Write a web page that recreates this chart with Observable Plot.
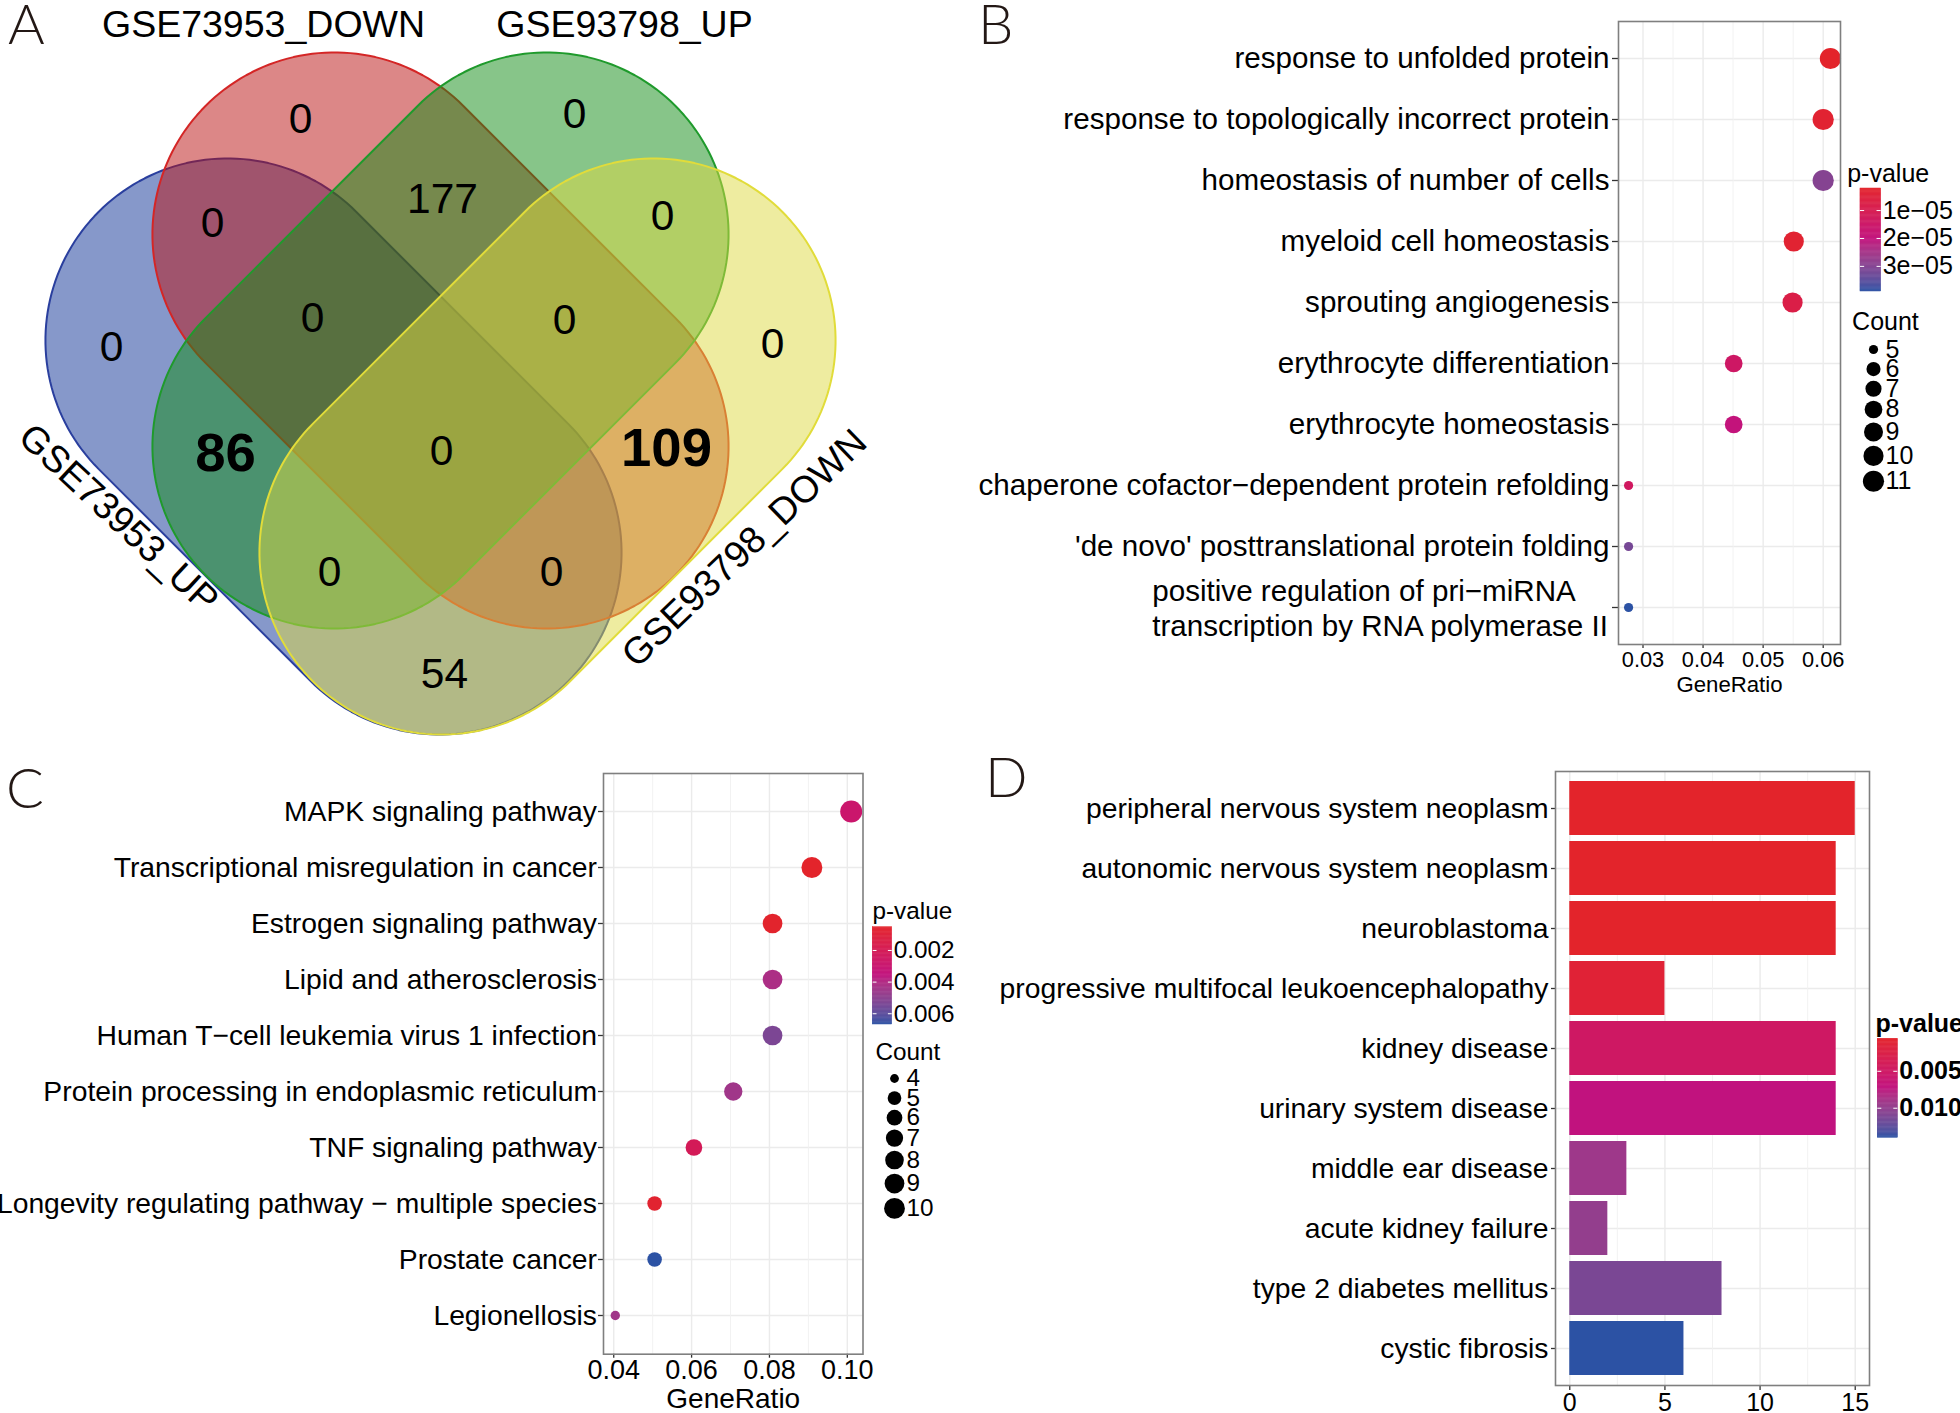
<!DOCTYPE html>
<html><head><meta charset="utf-8">
<script src="https://cdn.jsdelivr.net/npm/d3@7"></script>
<script src="https://cdn.jsdelivr.net/npm/@observablehq/plot@0.6"></script>
<style>
html,body{margin:0;padding:0;background:#fff;}
#fig{position:relative;width:1960px;height:1413px;overflow:hidden;background:#fff;font-family:"Liberation Sans",Arial,sans-serif;}
.letter{position:absolute;font-size:56px;line-height:1;color:#231815;font-family:Lato,"Liberation Sans",Arial,sans-serif;font-weight:300;}
svg{display:block;}
</style></head><body><div id="fig"></div>
<script>
// ---------------- DATA ----------------
// Panel A: Venn diagram (4 sets), each set drawn as a capsule shape
const vennSets = ["GSE73953_UP", "GSE73953_DOWN", "GSE93798_UP", "GSE93798_DOWN"];
const vennFill = ["#0D3195", "#B90F0F", "#0F8C14", "#DDD941"];
const vennStroke = ["#2A3F9E", "#D42626", "#1F9A2C", "#E1DC3A"];
const shapeCx = [-1.07, 0, 0, 1.07];
const shapeCy = [-0.26, 0.80, 0.80, -0.26];
const shapeHalfLen = [1.50, 1.50, 1.50, 1.50];
const shapeRadius = [1.82, 1.82, 1.82, 1.82];
const shapeAngle = [135, 135, 45, 45];
const setLabelX = [-3.22, -1.77, 1.84, 3.04];
const setLabelY = [-0.98, 3.96, 3.96, -1.28];
const setLabelRotate = [43, 0, 0, -44];
const regionCounts = ["0", "0", "0", "177", "0", "0", "0", "0", "0", "86", "0", "109", "0", "0", "54"];
const regionBold = [0, 0, 0, 0, 0, 0, 0, 0, 0, 1, 0, 1, 0, 0, 0];
const regionX = [-1.40, 1.34, -2.28, 0.02, 2.22, -3.29, -1.28, 1.24, 3.32, -2.15, 0.01, 2.26, -1.11, 1.11, 0.04];
const regionY = [3.01, 3.06, 1.97, 2.21, 2.04, 0.73, 1.02, 1.00, 0.76, -0.33, -0.31, -0.28, -1.52, -1.52, -2.54];

// Panel B: GO dot plot
const bTerms = ["response to unfolded protein", "response to topologically incorrect protein", "homeostasis of number of cells", "myeloid cell homeostasis", "sprouting angiogenesis", "erythrocyte differentiation", "erythrocyte homeostasis", "chaperone cofactor\u2212dependent protein refolding", "'de novo' posttranslational protein folding", "positive regulation of pri\u2212miRNA\ntranscription by RNA polymerase II"];
const bRatio = [0.0612, 0.0600, 0.0600, 0.0551, 0.0549, 0.0451, 0.0451, 0.0276, 0.0276, 0.0276];
const bCount = [11, 11, 11, 10, 10, 8, 8, 5, 5, 5];
const bPvalue = [2.1e-6, 3.4e-6, 3.0e-5, 3.5e-6, 7.9e-6, 1.46e-5, 1.98e-5, 1.35e-5, 3.2e-5, 3.9e-5];
const bXTicks = [0.03, 0.04, 0.05, 0.06];
const bXMinor = [0.035, 0.045, 0.055];
const bColorTicks = [1e-5, 2e-5, 3e-5];
const bCountLegend = [5, 6, 7, 8, 9, 10, 11];

// Panel C: KEGG dot plot
const cTerms = ["MAPK signaling pathway", "Transcriptional misregulation in cancer", "Estrogen signaling pathway", "Lipid and atherosclerosis", "Human T\u2212cell leukemia virus 1 infection", "Protein processing in endoplasmic reticulum", "TNF signaling pathway", "Longevity regulating pathway \u2212 multiple species", "Prostate cancer", "Legionellosis"];
const cRatio = [0.1010, 0.0909, 0.0808, 0.0808, 0.0808, 0.0707, 0.0606, 0.0505, 0.0505, 0.0404];
const cCount = [10, 9, 8, 8, 8, 7, 6, 5, 5, 4];
const cPvalue = [0.0029, 0.00053, 0.0006, 0.0042, 0.0054, 0.0045, 0.0021, 0.0007, 0.00668, 0.0045];
const cXTicks = [0.04, 0.06, 0.08, 0.10];
const cXMinor = [0.05, 0.07, 0.09];
const cColorTicks = [0.002, 0.004, 0.006];
const cCountLegend = [4, 5, 6, 7, 8, 9, 10];

// Panel D: DO bar plot
const dTerms = ["peripheral nervous system neoplasm", "autonomic nervous system neoplasm", "neuroblastoma", "progressive multifocal leukoencephalopathy", "kidney disease", "urinary system disease", "middle ear disease", "acute kidney failure", "type 2 diabetes mellitus", "cystic fibrosis"];
const dCount = [15, 14, 14, 5, 14, 14, 3, 2, 8, 6];
const dPvalue = [0.0006, 0.00062, 0.00062, 0.0014, 0.0050, 0.0073, 0.0094, 0.0100, 0.0113, 0.0140];
const dXTicks = [0, 5, 10, 15];
const dXMinor = [2.5, 7.5, 12.5];
const dColorTicks = [0.005, 0.010];

// ---------------- HELPERS ----------------
const FONT = "Liberation Sans, Arial, sans-serif";
const RAMP = ["#E3242B", "#C1127E", "#2C52A4"];
const baseStyle = {fontFamily: FONT, color: "black", background: "transparent", overflow: "visible"};
function colorScale(values) {
  const [lo, hi] = d3.extent(values);
  return {type: "linear", domain: [lo, (lo + hi) / 2, hi], range: RAMP, interpolate: "lab"};
}
function textWidth(s, size, weight = "normal") {
  const c = textWidth.c || (textWidth.c = document.createElement("canvas").getContext("2d"));
  c.font = `${weight} ${size}px "Liberation Sans", Arial, sans-serif`;
  return c.measureText(s).width;
}
const fmtExp = d => { const [m, e] = d.toExponential(0).split("e"); return `${m}e${+e < 0 ? "\u2212" : "+"}${String(Math.abs(+e)).padStart(2, "0")}`; };
const fig = document.getElementById("fig");
function place(el, left, top) {
  const w = document.createElement("div");
  w.style.cssText = `position:absolute;left:${left}px;top:${top}px;`;
  w.appendChild(el); fig.appendChild(w);
}
function letter(t, left, top) {
  const d = document.createElement("div"); d.className = "letter"; d.textContent = t;
  d.style.left = left + "px"; d.style.top = top + "px"; fig.appendChild(d);
}

function dotPanel(o) {
  const data = o.terms.map((t, i) => ({term: t, ratio: o.ratio[i], count: o.count[i], p: o.p[i]}));
  const [xlo, xhi] = d3.extent(o.ratio); const pad = (xhi - xlo) * 0.05;
  const [cmin, cmax] = d3.extent(o.legendCounts);
  const marks = [
    Plot.ruleY(o.terms, {stroke: "#EBEBEB", strokeWidth: 1.4}),
    Plot.ruleX(o.minor, {stroke: "#F0F0F0", strokeWidth: 0.9}),
    Plot.ruleX(o.xTicks, {stroke: "#EBEBEB", strokeWidth: 1.4}),
    Plot.dot(data, {x: "ratio", y: "term", r: d => Math.sqrt((d.count - cmin) / (cmax - cmin)), fill: "p"}),
    Plot.axisY({tickSize: o.ySize, tickPadding: o.yPad, fontSize: o.yFont, stroke: "#333", strokeWidth: 1.3, label: null, tickFormat: d => d.includes("\n") ? "" : d}),
    Plot.axisX({ticks: o.xTicks, tickFormat: d3.format(".2f"), tickSize: o.xSize, tickPadding: o.xPad, fontSize: o.xFont, stroke: "#333", strokeWidth: 1.3, label: null}),
    Plot.text(["GeneRatio"], {frameAnchor: "bottom", dy: o.titleDy, lineAnchor: "middle", fontSize: o.titleFont}),
    Plot.frame({stroke: "#7F7F7F", strokeWidth: 1.6})
  ];
  o.terms.filter(t => t.includes("\n")).forEach(t => {
    const w = d3.max(t.split("\n"), s => textWidth(s, o.yFont));
    marks.push(Plot.text([t], {x: xlo - pad, y: d => d, text: d => d, textAnchor: "start", dx: -(o.ySize + o.yPad + w), lineHeight: o.lineHeight, fontSize: o.yFont}));
  });
  return Plot.plot({
    width: o.width, height: o.height,
    marginLeft: o.ml, marginRight: o.mr, marginTop: o.mt, marginBottom: o.mb,
    style: baseStyle,
    x: {domain: [xlo - pad, xhi + pad]},
    y: {type: "point", domain: o.terms, padding: 0.6},
    r: {type: "linear", domain: [0, 1], range: o.rRange},
    color: colorScale(o.p),
    marks
  });
}

function colorbarLegend(o) {
  const [lo, hi] = d3.extent(o.p);
  const n = 120;
  const samples = d3.range(n).map(i => ({p0: lo + (hi - lo) * i / n, p1: lo + (hi - lo) * (i + 1) / n}));
  const fw = o.bold ? "bold" : "normal";
  return Plot.plot({
    width: o.width, height: o.height, margin: 0, style: baseStyle,
    x: {domain: [0, 1], range: o.barX, axis: null},
    y: {domain: [lo, hi], range: o.barY, axis: null},
    color: colorScale(o.p),
    marks: [
      Plot.rect(samples, {x1: 0, x2: 1, y1: "p0", y2: "p1", fill: d => (d.p0 + d.p1) / 2, stroke: d => (d.p0 + d.p1) / 2, strokeWidth: 0.5}),
      Plot.ruleY(o.ticks, {y: d => d, x1: 0, x2: 0.2, stroke: "white", strokeWidth: 1}),
      Plot.ruleY(o.ticks, {y: d => d, x1: 0.8, x2: 1, stroke: "white", strokeWidth: 1}),
      Plot.text(o.ticks, {x: 1, y: d => d, text: o.fmt, textAnchor: "start", dx: 1.5, fontSize: o.fontSize, fontWeight: fw}),
      Plot.text([o.title], {frameAnchor: "top-left", dx: o.titleDx, dy: o.titleDy, textAnchor: "start", lineAnchor: "middle", fontSize: o.fontSize, fontWeight: fw})
    ]
  });
}

function countLegend(o) {
  const [cmin, cmax] = d3.extent(o.counts);
  const s = c => Math.sqrt((c - cmin) / (cmax - cmin));
  const rl = c => o.rRange[0] + (o.rRange[1] - o.rRange[0]) * s(c);
  const h = o.counts.map(c => Math.max(19.6, 2.45 * rl(c)));
  const rows = []; let y = o.firstY;
  o.counts.forEach((c, i) => { if (i > 0) y += (h[i - 1] + h[i]) / 2; rows.push({c, y, x: o.dotX, s: s(c)}); });
  return Plot.plot({
    width: o.width, height: o.height, margin: 0, style: baseStyle,
    x: {domain: [0, o.width], range: [0, o.width], axis: null},
    y: {domain: [0, o.height], range: [0, o.height], axis: null},
    r: {type: "linear", domain: [0, 1], range: o.rRange},
    marks: [
      Plot.dot(rows, {x: "x", y: "y", r: "s", fill: "black"}),
      Plot.text(rows, {x: "x", y: "y", dx: o.labelDx, text: d => String(d.c), textAnchor: "start", fontSize: o.fontSize}),
      Plot.text([o.title], {frameAnchor: "top-left", dx: o.titleDx, dy: o.titleDy, textAnchor: "start", lineAnchor: "middle", fontSize: o.fontSize})
    ]
  });
}

// ---------------- PANEL A ----------------
// capsule outline: two half circles joined by straight sides, then rotated/translated
const shapes = vennSets.map((name, k) => {
  const th = shapeAngle[k] * Math.PI / 180, s = shapeHalfLen[k], R = shapeRadius[k];
  const local = [];
  d3.range(-90, 90.01, 2).forEach(t => { const a = t * Math.PI / 180; local.push([s + R * Math.cos(a), R * Math.sin(a)]); });
  d3.range(90, 270.01, 2).forEach(t => { const a = t * Math.PI / 180; local.push([-s + R * Math.cos(a), R * Math.sin(a)]); });
  return local.map(([u, v]) => ({x: shapeCx[k] + u * Math.cos(th) - v * Math.sin(th), y: shapeCy[k] + u * Math.sin(th) + v * Math.cos(th)}));
});
const regions = regionCounts.map((t, i) => ({t, x: regionX[i], y: regionY[i], bold: regionBold[i]}));
const setLabels = vennSets.map((t, i) => ({t, x: setLabelX[i], y: setLabelY[i], r: setLabelRotate[i]}));
const vennPlot = Plot.plot({
  width: 980, height: 760, margin: 0, style: baseStyle,
  x: {domain: [-4.4, 5.4], range: [0, 980], axis: null},
  y: {domain: [-3.4, 4.2], range: [760, 0], axis: null},
  marks: [
    ...shapes.map((pts, k) => Plot.line(pts, {x: "x", y: "y", curve: "linear-closed", fill: vennFill[k], fillOpacity: 0.5, stroke: vennStroke[k], strokeWidth: 2})),
    Plot.text(regions.filter(d => !d.bold), {x: "x", y: "y", text: "t", fontSize: 42.5}),
    Plot.text(regions.filter(d => d.bold), {x: "x", y: "y", text: "t", fontSize: 54.5, fontWeight: "bold"}),
    ...setLabels.map(d => Plot.text([d], {x: "x", y: "y", text: "t", rotate: d.r, fontSize: 37.5}))
  ]
});
place(vennPlot, 0, 0);

// ---------------- PANEL B ----------------
place(dotPanel({terms: bTerms, ratio: bRatio, count: bCount, p: bPvalue, legendCounts: bCountLegend,
  xTicks: bXTicks, minor: bXMinor, width: 890, height: 700, ml: 658, mr: 10, mt: 21, mb: 56,
  ySize: 6, yPad: 3, yFont: 29.6, xSize: 4, xPad: 3, xFont: 21.8, titleDy: 40.7, titleFont: 22.2,
  lineHeight: 1.19, rRange: [4.6, 10.6]}), 960, 0);
place(colorbarLegend({p: bPvalue, ticks: bColorTicks, fmt: fmtExp, width: 120, height: 140,
  barX: [20, 40.7], barY: [28, 131], title: "p-value", titleDx: 6.7, titleDy: 13.5, fontSize: 25}), 1840, 160);
place(countLegend({counts: bCountLegend, rRange: [4.6, 10.6], width: 120, height: 200, title: "Count",
  titleDx: 11.6, titleDy: 21, dotX: 33, firstY: 49, labelDx: 12, fontSize: 25}), 1840, 300);

// ---------------- PANEL C ----------------
place(dotPanel({terms: cTerms, ratio: cRatio, count: cCount, p: cPvalue, legendCounts: cCountLegend,
  xTicks: cXTicks, minor: cXMinor, width: 870, height: 673, ml: 603, mr: 7.5, mt: 33, mb: 59.3,
  ySize: 5, yPad: 1.5, yFont: 28.3, xSize: 4, xPad: 2, xFont: 27, titleDy: 44.5, titleFont: 28,
  lineHeight: 1.19, rRange: [4.7, 11]}), 0, 740);
place(colorbarLegend({p: cPvalue, ticks: cColorTicks, fmt: d3.format(".3f"), width: 100, height: 140,
  barX: [12.7, 31.7], barY: [31.7, 129], title: "p-value", titleDx: 12, titleDy: 16, fontSize: 24.3}), 860, 895);
place(countLegend({counts: cCountLegend, rRange: [4.4, 10.4], width: 100, height: 200, title: "Count",
  titleDx: 15, titleDy: 22, dotX: 34, firstY: 48, labelDx: 12, fontSize: 24.3}), 860, 1030);

// ---------------- PANEL D ----------------
const dData = dTerms.map((t, i) => ({term: t, count: dCount[i], p: dPvalue[i]}));
const dPlot = Plot.plot({
  width: 915, height: 673, marginLeft: 595, marginRight: 6, marginTop: 31, marginBottom: 28,
  style: baseStyle,
  x: {domain: [-0.75, 15.75]},
  y: {type: "band", domain: dTerms, paddingInner: 0.1, paddingOuter: 0.15},
  color: colorScale(dPvalue),
  marks: [
    Plot.gridY({stroke: "#EBEBEB", strokeOpacity: 1, strokeWidth: 1.4}),
    Plot.ruleX(dXMinor, {stroke: "#F0F0F0", strokeWidth: 0.9}),
    Plot.ruleX(dXTicks, {stroke: "#EBEBEB", strokeWidth: 1.4}),
    Plot.barX(dData, {x: "count", y: "term", fill: "p"}),
    Plot.axisY({tickSize: 4, tickPadding: 3, fontSize: 28.3, stroke: "#333", strokeWidth: 1.3, label: null}),
    Plot.axisX({ticks: dXTicks, tickSize: 5, tickPadding: 3, fontSize: 25, stroke: "#333", strokeWidth: 1.3, label: null}),
    Plot.frame({stroke: "#7F7F7F", strokeWidth: 1.6})
  ]
});
place(dPlot, 960, 740);
place(colorbarLegend({p: dPvalue, ticks: dColorTicks, fmt: d3.format(".3f"), width: 100, height: 150,
  barX: [17.3, 37.3], barY: [38.3, 137.3], title: "p-value", titleDx: 15, titleDy: 23, fontSize: 25, bold: true}), 1860, 1000);

// ---------------- PANEL LETTERS ----------------
letter("A", 8, -5.4);
letter("B", 978, -5.4);
letter("C", 6, 758.6);
letter("D", 985, 747.6);
</script></body></html>
